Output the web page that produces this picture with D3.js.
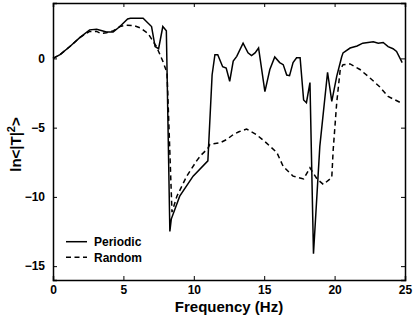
<!DOCTYPE html>
<html>
<head>
<meta charset="utf-8">
<script src="https://cdn.jsdelivr.net/npm/d3@7"></script>
<style>
  body { margin: 0; background: #fff; }
  svg { display: block; }
  text { font-family: "Liberation Sans", Arial, sans-serif; font-weight: bold; fill: #000; }
</style>
</head>
<body>
<div id="chart"></div>
<script>
// periodic structure
var freqPeriodic = [0, 0.5, 1.2, 1.9, 2.6, 3.1, 3.8, 4.27, 4.75, 5.3, 5.5, 6.4, 7.0, 7.25, 7.5, 7.8, 8.05,
  8.3, 8.4, 9.0, 9.95, 11.0, 11.3, 11.5, 11.7, 12.05, 12.3, 12.55, 12.8, 13.05, 13.5, 13.85, 14.1, 14.35,
  14.6, 15.05, 15.4, 15.75, 16.1, 16.35, 16.6, 16.8, 17.05, 17.3, 17.55, 17.8, 18.0, 18.25, 18.5, 18.95,
  19.5, 19.8, 20.15, 20.5, 20.6, 21.1, 21.6, 22.0, 22.75, 23.1, 23.45, 23.8, 24.15, 24.4, 24.8];
var lnPeriodic = [0, 0.27, 0.86, 1.5, 2.06, 2.1, 1.9, 1.9, 2.3, 2.85, 2.9, 2.9, 2.3, 0.85, 0.7, 2.3, 2.0,
  -12.5, -11.6, -9.95, -8.5, -7.4, -1.2, 0.27, 0.27, -0.6, -0.7, -1.65, -0.2, 0.15, 1.1, 0.4, 0.2, 0.4,
  0.75, -2.4, -0.8, 0.1, -0.3, -0.45, -1.2, -1.25, -0.3, 0.05, 0.05, -3.0, -3.2, -1.75, -14.1, -6.35,
  -1.0, -3.1, -1.3, 0.1, 0.4, 0.75, 0.9, 1.1, 1.2, 1.1, 1.15, 0.85, 0.7, 0.5, -0.3];

// random structure
var freqRandom = [0, 0.5, 1.2, 1.9, 2.6, 3.1, 3.4, 3.8, 4.3, 4.75, 5.2, 5.8, 6.2, 6.75, 7.35, 7.8, 8.1,
  8.45, 8.8, 9.5, 10.2, 10.5, 11.0, 11.15, 11.85, 12.35, 12.8, 13.2, 13.75, 14.45, 15.15, 15.9, 16.35,
  17.05, 17.8, 18.25, 18.75, 19.2, 19.8, 19.9, 20.15, 20.4, 20.6, 21.1, 21.8, 22.5, 23.2, 23.8, 24.8];
var lnRandom = [0, 0.27, 0.86, 1.5, 1.95, 1.95, 1.8, 1.85, 2.0, 2.3, 2.4, 2.35, 2.2, 1.8, 0.85, -0.2, -1.05,
  -11.1, -9.95, -8.5, -7.4, -7.0, -6.5, -6.2, -6.1, -5.85, -5.5, -5.3, -5.1, -5.5, -6.1, -6.8, -7.8,
  -8.5, -8.7, -7.9, -8.7, -9.1, -8.6, -6.6, -3.2, -0.8, -0.45, -0.4, -0.8, -1.4, -2.05, -2.75, -3.25];

var xTicks = [0, 5, 10, 15, 20, 25];
var yTicks = [0, -5, -10, -15];

var svgWidth = 415, svgHeight = 316;
var margin = { top: 3, right: 10, bottom: 36, left: 53 };
var width = svgWidth - margin.left - margin.right;
var height = svgHeight - margin.top - margin.bottom;

var svg = d3.select("#chart").append("svg")
  .attr("width", svgWidth)
  .attr("height", svgHeight);

var g = svg.append("g")
  .attr("transform", `translate(${margin.left}, ${margin.top})`);

var x = d3.scaleLinear().domain([0, 25]).range([0, width]);
var y = d3.scaleLinear().domain([-16, 4]).range([height, 0]);

function fmt(d) { return d < 0 ? "\u2212" + Math.abs(d) : d; }

// axes, ticks pointing inward
var axBottom = g.append("g").attr("transform", `translate(0, ${height})`)
  .call(d3.axisBottom(x).tickValues(xTicks).tickSize(-4).tickPadding(5).tickFormat(fmt));
var axTop = g.append("g")
  .call(d3.axisTop(x).tickValues(xTicks).tickSize(-4).tickFormat(""));
var axLeft = g.append("g")
  .call(d3.axisLeft(y).tickValues(yTicks).tickSize(-4).tickPadding(8).tickFormat(fmt));
var axRight = g.append("g").attr("transform", `translate(${width}, 0)`)
  .call(d3.axisRight(y).tickValues(yTicks).tickSize(-4).tickFormat(""));

[axBottom, axTop, axLeft, axRight].forEach(function(a) {
  a.select(".domain").attr("stroke", "#000").attr("stroke-width", 1.5);
  a.selectAll(".tick line").attr("stroke", "#000");
  a.selectAll(".tick text").attr("font-size", 12).attr("font-weight", "bold")
    .attr("font-family", "Liberation Sans, Arial, sans-serif");
});

// curves
var line = d3.line()
  .x(d => x(d[0]))
  .y(d => y(d[1]));

var periodic = freqPeriodic.map((f, i) => [f, lnPeriodic[i]]);
var random = freqRandom.map((f, i) => [f, lnRandom[i]]);

g.append("path").datum(random)
  .attr("d", line)
  .attr("fill", "none")
  .attr("stroke", "#000")
  .attr("stroke-width", 1.5)
  .attr("stroke-dasharray", "5,3.5");

g.append("path").datum(periodic)
  .attr("d", line)
  .attr("fill", "none")
  .attr("stroke", "#000")
  .attr("stroke-width", 1.5);

// legend
var legend = g.append("g").attr("transform", "translate(13, 0)");
[["Periodic", null, 238.7], ["Random", "5,3.5", 254.3]].forEach(function(l) {
  legend.append("line")
    .attr("x1", 0).attr("x2", 21)
    .attr("y1", l[2]).attr("y2", l[2])
    .attr("stroke", "#000").attr("stroke-width", 1.5)
    .attr("stroke-dasharray", l[1]);
  legend.append("text")
    .attr("x", 28).attr("y", l[2] + 4.5)
    .attr("font-size", 12)
    .text(l[0]);
});

// axis labels
svg.append("text")
  .attr("x", margin.left + width / 2)
  .attr("y", 311.5)
  .attr("text-anchor", "middle")
  .attr("font-size", 15)
  .text("Frequency (Hz)");

var yl = svg.append("text")
  .attr("transform", `translate(21, ${margin.top + height / 2 + 3}) rotate(-90)`)
  .attr("text-anchor", "middle")
  .attr("font-size", 15);
yl.append("tspan").text("ln<|T|");
yl.append("tspan").attr("font-size", 11).attr("dy", -6).text("2");
yl.append("tspan").attr("dy", 6).text(">");
</script>
</body>
</html>
